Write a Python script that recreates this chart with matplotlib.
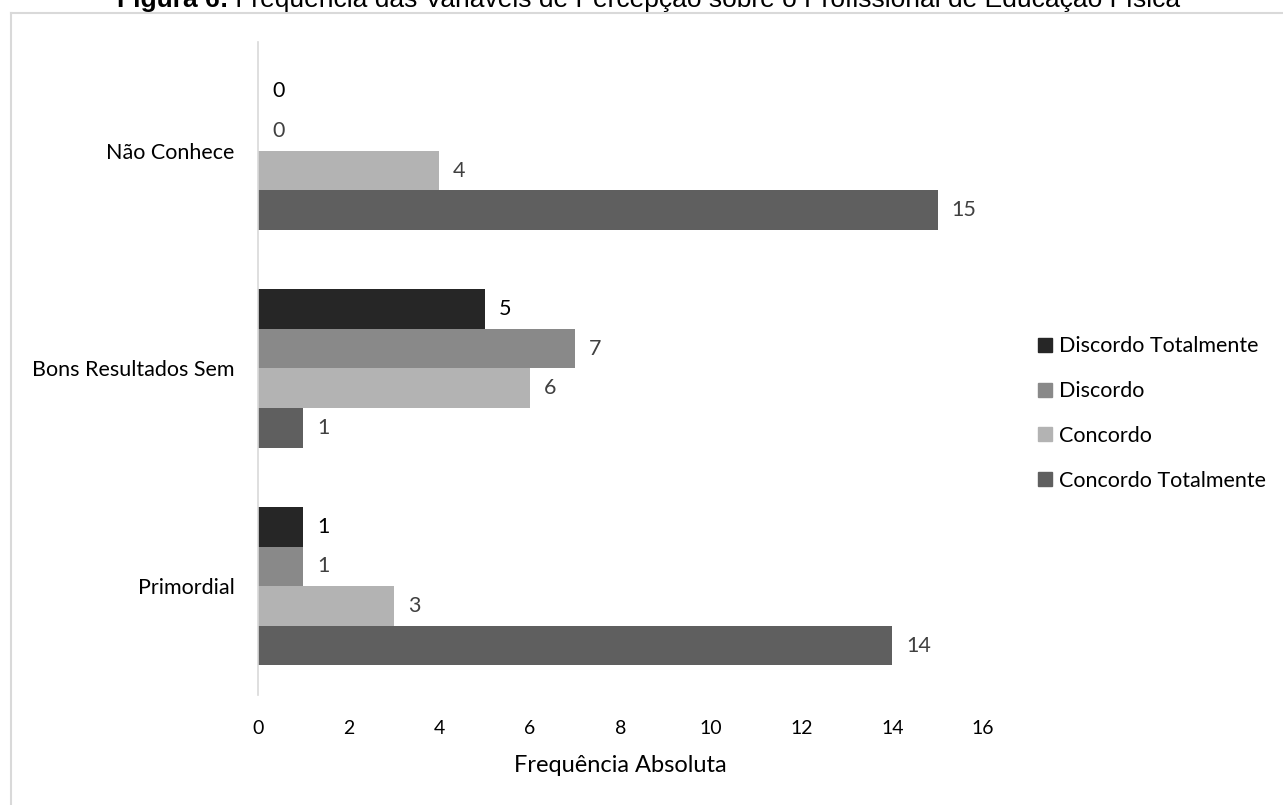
import matplotlib
matplotlib.use("Agg")
import matplotlib.pyplot as plt
from matplotlib.lines import Line2D
import numpy as np

categories = ["Primordial", "Bons Resultados Sem", "Não Conhece"]
series_names = ["Discordo Totalmente", "Discordo", "Concordo", "Concordo Totalmente"]
discordo_totalmente = [1, 5, 0]
discordo = [1, 7, 0]
concordo = [3, 6, 4]
concordo_totalmente = [14, 1, 15]
x_ticks = [0, 2, 4, 6, 8, 10, 12, 14, 16]

values = [discordo_totalmente, discordo, concordo, concordo_totalmente]
colors = ["#262626", "#898989", "#b3b3b3", "#5f5f5f"]
label_colors = ["#000000", "#404040", "#404040", "#404040"]

plt.rcParams['font.family'] = ['Lato', 'DejaVu Sans']

W, H = 1283, 805
fig = plt.figure(figsize=(W / 100, H / 100), dpi=100)
ax = fig.add_axes([258 / W, 1 - 695 / H, 725 / W, (695 - 42) / H])

bar_h = 0.182
y = np.arange(len(categories))
for i, (vals, c, lc) in enumerate(zip(values, colors, label_colors)):
    offs = (1.5 - i) * bar_h
    bars = ax.barh(y + offs, vals, height=bar_h, color=c, edgecolor='none')
    for b, v in zip(bars, vals):
        ax.annotate(str(v), xy=(b.get_width(), b.get_y() + b.get_height() / 2),
                    xytext=(10, 0), textcoords='offset points', va='center', ha='left',
                    fontsize=15.5, color=lc)

ax.set_ylim(-0.5, 2.5)
ax.set_xlim(0, 16)
ax.set_xticks(x_ticks)
ax.set_xticklabels([str(t) for t in x_ticks], fontsize=14, color='#000000')
ax.set_yticks(y)
ax.set_yticklabels(categories, fontsize=15.5, color='#000000')
ax.tick_params(axis='both', length=0)
ax.tick_params(axis='x', pad=18)
ax.tick_params(axis='y', pad=17)
for s in ['top', 'right', 'bottom']:
    ax.spines[s].set_visible(False)
ax.spines['left'].set_color('#d9d9d9')
ax.spines['left'].set_linewidth(1.2)
ax.set_xlabel("Frequência Absoluta", fontsize=17, color='#000000', labelpad=13)

handles = [Line2D([0], [0], marker='s', linestyle='none', markersize=10,
                  markerfacecolor=c, markeredgecolor=c) for c in colors]
fig.legend(handles, series_names, loc='center left',
           bbox_to_anchor=(1026 / W, 1 - 413.5 / H), frameon=False, fontsize=15.5,
           handletextpad=0.15, labelspacing=1.15, borderaxespad=0, handlelength=1.0)

# outer frame (left and top edges visible)
fig.add_artist(Line2D([10.5 / W, 10.5 / W], [0, 1 - 13 / H], transform=fig.transFigure,
                      color='#d9d9d9', linewidth=1.5))
fig.add_artist(Line2D([10.5 / W, 1], [1 - 13 / H, 1 - 13 / H], transform=fig.transFigure,
                      color='#d9d9d9', linewidth=1.5))

t1 = fig.text(117 / W, 1 - 7 / H, "Figura 6:", fontsize=19, fontweight='bold',
              family='Liberation Sans', va='baseline', ha='left')
t2 = fig.text(0, 0, " Frequência das Variáveis de Percepção sobre o Profissional de Educação Física",
              fontsize=19, family='Liberation Sans', va='baseline', ha='left')
fig.canvas.draw()
r = fig.canvas.get_renderer()
bb = t1.get_window_extent(r)
t2.set_position((bb.x1 / W, 1 - 7 / H))

fig.savefig("out.png", dpi=100)
